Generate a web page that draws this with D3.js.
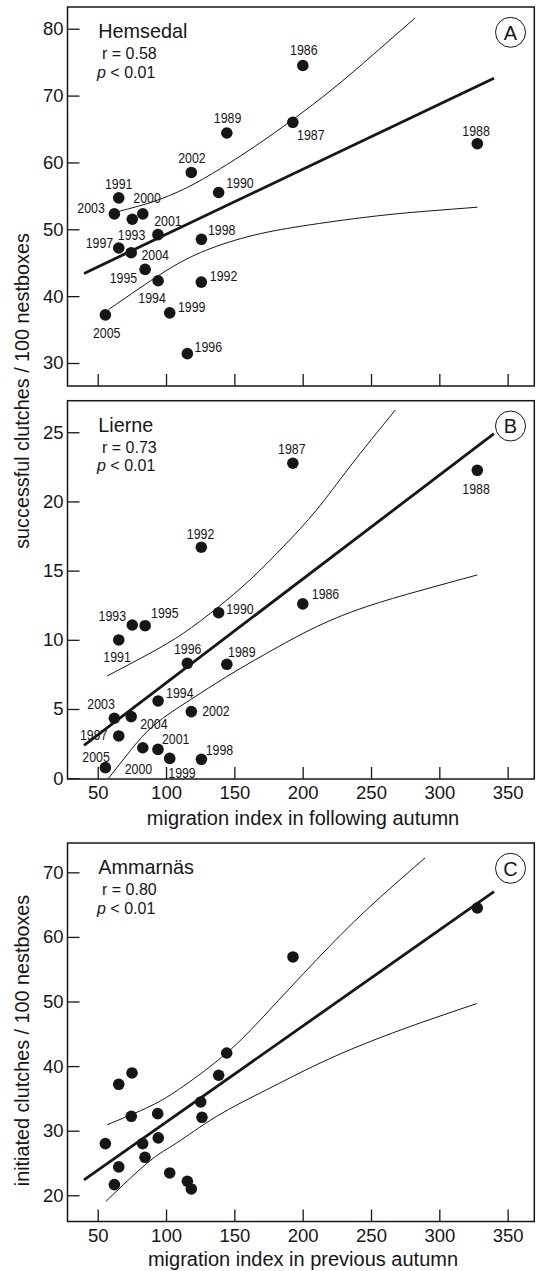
<!DOCTYPE html>
<html>
<head>
<meta charset="utf-8">
<script src="https://cdn.jsdelivr.net/npm/d3@7"></script>
<style>
  body { margin: 0; background: #fff; }
  text { font-family: "Liberation Sans", Arial, Helvetica, sans-serif; fill: #161616; }
</style>
</head>
<body>
<div class="chart"></div>
<script>
// data
var years = [1986,1987,1988,1989,1990,1991,1992,1993,1994,1995,
             1996,1997,1998,1999,2000,2001,2002,2003,2004,2005];

// migration index in following autumn (panels A and B)
var migFollowing = [200.1,192.8,327.8,144.5,138.5,65.4,125.8,75.3,94.2,84.7,
                    115.6,65.4,125.9,102.7,83.0,94.1,118.5,62.2,74.5,55.6];

// successful clutches / 100 nestboxes
var hemsedal = [74.5,66.0,62.8,64.4,55.5,54.7,42.1,51.5,42.3,44.0,
                31.4,47.2,48.5,37.5,52.3,49.2,58.5,52.3,46.5,37.2];
var lierne = [12.6,22.76,22.25,8.23,11.96,9.99,16.69,11.07,5.58,11.02,
              8.30,3.05,1.36,1.43,2.20,2.08,4.81,4.33,4.45,0.76];

// panel C: migration index in previous autumn vs initiated clutches
var migPrevious = [327.8,192.9,144.4,138.5,75.1,65.4,125.4,126.3,74.6,93.9,
                   55.6,82.9,94.3,84.6,65.4,102.7,62.2,115.6,118.5];
var ammarnas = [64.48,56.9,42.03,38.58,38.94,37.18,34.45,32.07,32.23,32.64,
                28.0,28.0,28.88,25.88,24.39,23.46,21.65,22.17,20.98];

var xTicks = [50,100,150,200,250,300,350];
var hemTicks = [30,40,50,60,70,80];
var lieTicks = [0,5,10,15,20,25];
var ammTicks = [20,30,40,50,60,70];

// regression lines (ends) and 95% bands
var hemFit = [[40,43.4],[340,72.6]];
var hemUpper = [[65.8,52.7],[90,54.1],[115,56.2],[140,59.1],[165,62.4],[192.7,66.4],[222,71.0],[252,76.2],[282.2,81.6]];
var hemLower = [[58,38.0],[80,41.1],[100,43.8],[125,46.5],[160,48.9],[200,50.5],[250,51.9],[290,52.7],[327.8,53.3]];

var lieFit = [[40,2.37],[340,24.9]];
var lieUpper = [[57.0,7.39],[88.3,9.03],[112.6,10.47],[137.1,12.28],[161.4,14.33],[185.8,16.73],[210.2,19.39],[234.6,22.52],[267.8,26.61]];
var lieLower = [[58,0.0],[74,2.0],[91.5,3.85],[117.5,5.65],[144.4,7.34],[173.7,9.03],[210.2,10.95],[246.8,12.40],[285.8,13.55],[327.8,14.69]];

var ammFit = [[40,22.4],[340,67.0]];
var ammUpper = [[57.0,30.93],[88.3,33.78],[112.6,36.87],[144.4,42.03],[173.7,48.22],[210.2,56.47],[246.8,64.21],[289.5,72.22]];
var ammLower = [[56.1,19.07],[87.8,25.26],[107.8,28.1],[137.1,32.23],[173.7,36.35],[210.2,40.22],[246.8,43.58],[285.8,46.67],[327.3,49.67]];

// year label placement (px offset of label centre from the dot)
var hemLabelPos = {1986:[1,-16],1987:[18,12.7],1988:[-1.3,-12.7],1989:[0.7,-15.3],1990:[21.3,-9.7],
  1991:[0,-14],1992:[22.3,-6.7],1993:[-0.7,15.7],1994:[-6,16.7],1995:[-21.7,8],1996:[21,-7.3],
  1997:[-19.3,-5.3],1998:[20.3,-10],1999:[22,-6],2000:[4.3,-16.7],2001:[10,-14],2002:[0.7,-14.7],
  2003:[-23.3,-6.7],2004:[24,2.3],2005:[1.3,18]};
var lieLabelPos = {1986:[22.7,-10],1987:[-1,-14.3],1988:[-1.3,18.7],1989:[15,-12.7],1990:[21.3,-4.3],
  1991:[-1.7,16.7],1992:[-0.7,-14],1993:[-20,-9],1994:[21.7,-8.3],1995:[19.7,-13],1996:[0.3,-14.3],
  1997:[-25,-1.7],1998:[18,-9.3],1999:[12.3,14.3],2000:[-4.3,20.7],2001:[17.7,-10.7],2002:[24.7,-1],
  2003:[-13.3,-15],2004:[22.7,6.7],2005:[-9.3,-11]};

// setup
var W = 538, H = 1271;
var left = 67.5, right = 534.3;
var ink = "#161616";

var svg = d3.select(".chart").append("svg")
    .attr("width", W)
    .attr("height", H);

var x = d3.scaleLinear()
    .domain([27.9, 369.5])
    .range([left, right]);

var panels = [
  {top: 7, bottom: 386, dom: [26.56, 83.25], ticks: hemTicks, xs: migFollowing, ys: hemsedal,
   fit: hemFit, upper: hemUpper, lower: hemLower, labels: hemLabelPos,
   site: "Hemsedal", r: "r = 0.58", letter: "A", xLabels: false},
  {top: 400.7, bottom: 779, dom: [-0.06, 27.28], ticks: lieTicks, xs: migFollowing, ys: lierne,
   fit: lieFit, upper: lieUpper, lower: lieLower, labels: lieLabelPos,
   site: "Lierne", r: "r = 0.73", letter: "B", xLabels: true},
  {top: 843, bottom: 1221.5, dom: [15.94, 74.54], ticks: ammTicks, xs: migPrevious, ys: ammarnas,
   fit: ammFit, upper: ammUpper, lower: ammLower, labels: null,
   site: "Ammarnäs", r: "r = 0.80", letter: "C", xLabels: true}
];

panels.forEach(function(p) {
  var y = d3.scaleLinear().domain(p.dom).range([p.bottom, p.top]);
  var g = svg.append("g");

  // axes: ticks point inwards
  var yAxis = d3.axisLeft(y).tickValues(p.ticks).tickSize(-12).tickPadding(4);
  var gy = g.append("g").attr("transform", "translate(" + left + ",0)").call(yAxis);

  var xAxis = d3.axisBottom(x).tickValues(xTicks).tickSize(-12).tickPadding(7);
  if (!p.xLabels) xAxis.tickFormat("");
  var gx = g.append("g").attr("transform", "translate(0," + p.bottom + ")").call(xAxis);

  [gx, gy].forEach(function(a) {
    a.select(".domain").remove();
    a.selectAll(".tick line").attr("stroke", ink).attr("stroke-width", 1.3);
    a.selectAll(".tick text").attr("fill", ink)
      .style("font-family", '"Liberation Sans", Arial, sans-serif')
      .style("font-size", "18.5px");
  });

  g.append("rect")
    .attr("x", left).attr("y", p.top)
    .attr("width", right - left).attr("height", p.bottom - p.top)
    .attr("fill", "none").attr("stroke", ink).attr("stroke-width", 1.5);

  var line = d3.line()
    .x(function(d) { return x(d[0]); })
    .y(function(d) { return y(d[1]); });

  var band = d3.line()
    .curve(d3.curveNatural)
    .x(function(d) { return x(d[0]); })
    .y(function(d) { return y(d[1]); });

  g.append("path").attr("d", band(p.upper))
    .attr("fill", "none").attr("stroke", ink).attr("stroke-width", 1);
  g.append("path").attr("d", band(p.lower))
    .attr("fill", "none").attr("stroke", ink).attr("stroke-width", 1);
  g.append("path").attr("d", line(p.fit))
    .attr("fill", "none").attr("stroke", ink).attr("stroke-width", 2.8);

  var pts = p.xs.map(function(v, i) { return {x: v, y: p.ys[i], year: years[i]}; });

  g.selectAll(".point")
    .data(pts)
    .enter().append("circle")
    .attr("class", "point")
    .attr("r", 5.8)
    .attr("cx", function(d) { return x(d.x); })
    .attr("cy", function(d) { return y(d.y); })
    .attr("fill", ink);

  if (p.labels) {
    g.selectAll(".yr")
      .data(pts)
      .enter().append("text")
      .attr("class", "yr")
      .attr("x", function(d) { return x(d.x) + p.labels[d.year][0]; })
      .attr("y", function(d) { return y(d.y) + p.labels[d.year][1] + 5.3; })
      .attr("text-anchor", "middle")
      .attr("textLength", 27.5)
      .attr("lengthAdjust", "spacingAndGlyphs")
      .style("font-size", "14.5px")
      .text(function(d) { return d.year; });
  }

  // site name and stats
  g.append("text").attr("x", 98.3).attr("y", p.top + 30.8)
    .style("font-size", "19.8px").text(p.site);
  g.append("text").attr("x", 102).attr("y", p.top + 52.3)
    .style("font-size", "16px").text(p.r);
  var pt = g.append("text").attr("x", 97).attr("y", p.top + 70.5)
    .style("font-size", "16px");
  pt.append("tspan").style("font-style", "italic").text("p");
  pt.append("tspan").text(" < 0.01");

  // panel letter in a circle
  g.append("circle").attr("cx", 510.5).attr("cy", p.top + 25.3).attr("r", 15)
    .attr("fill", "none").attr("stroke", ink).attr("stroke-width", 1);
  g.append("text").attr("x", 510.5).attr("y", p.top + 25.3 + 7.2)
    .attr("text-anchor", "middle").style("font-size", "20px").text(p.letter);
});

// axis titles
svg.append("text")
    .attr("transform", "translate(29,391) rotate(-90)")
    .attr("text-anchor", "middle")
    .style("font-size", "19.8px")
    .text("successful clutches / 100 nestboxes");

svg.append("text")
    .attr("transform", "translate(29,1040.5) rotate(-90)")
    .attr("text-anchor", "middle")
    .style("font-size", "19.8px")
    .text("initiated clutches / 100 nestboxes");

svg.append("text")
    .attr("x", 303).attr("y", 825)
    .attr("text-anchor", "middle")
    .style("font-size", "20px")
    .text("migration index in following autumn");

svg.append("text")
    .attr("x", 303).attr("y", 1266)
    .attr("text-anchor", "middle")
    .style("font-size", "20px")
    .text("migration index in previous autumn");
</script>
</body>
</html>
